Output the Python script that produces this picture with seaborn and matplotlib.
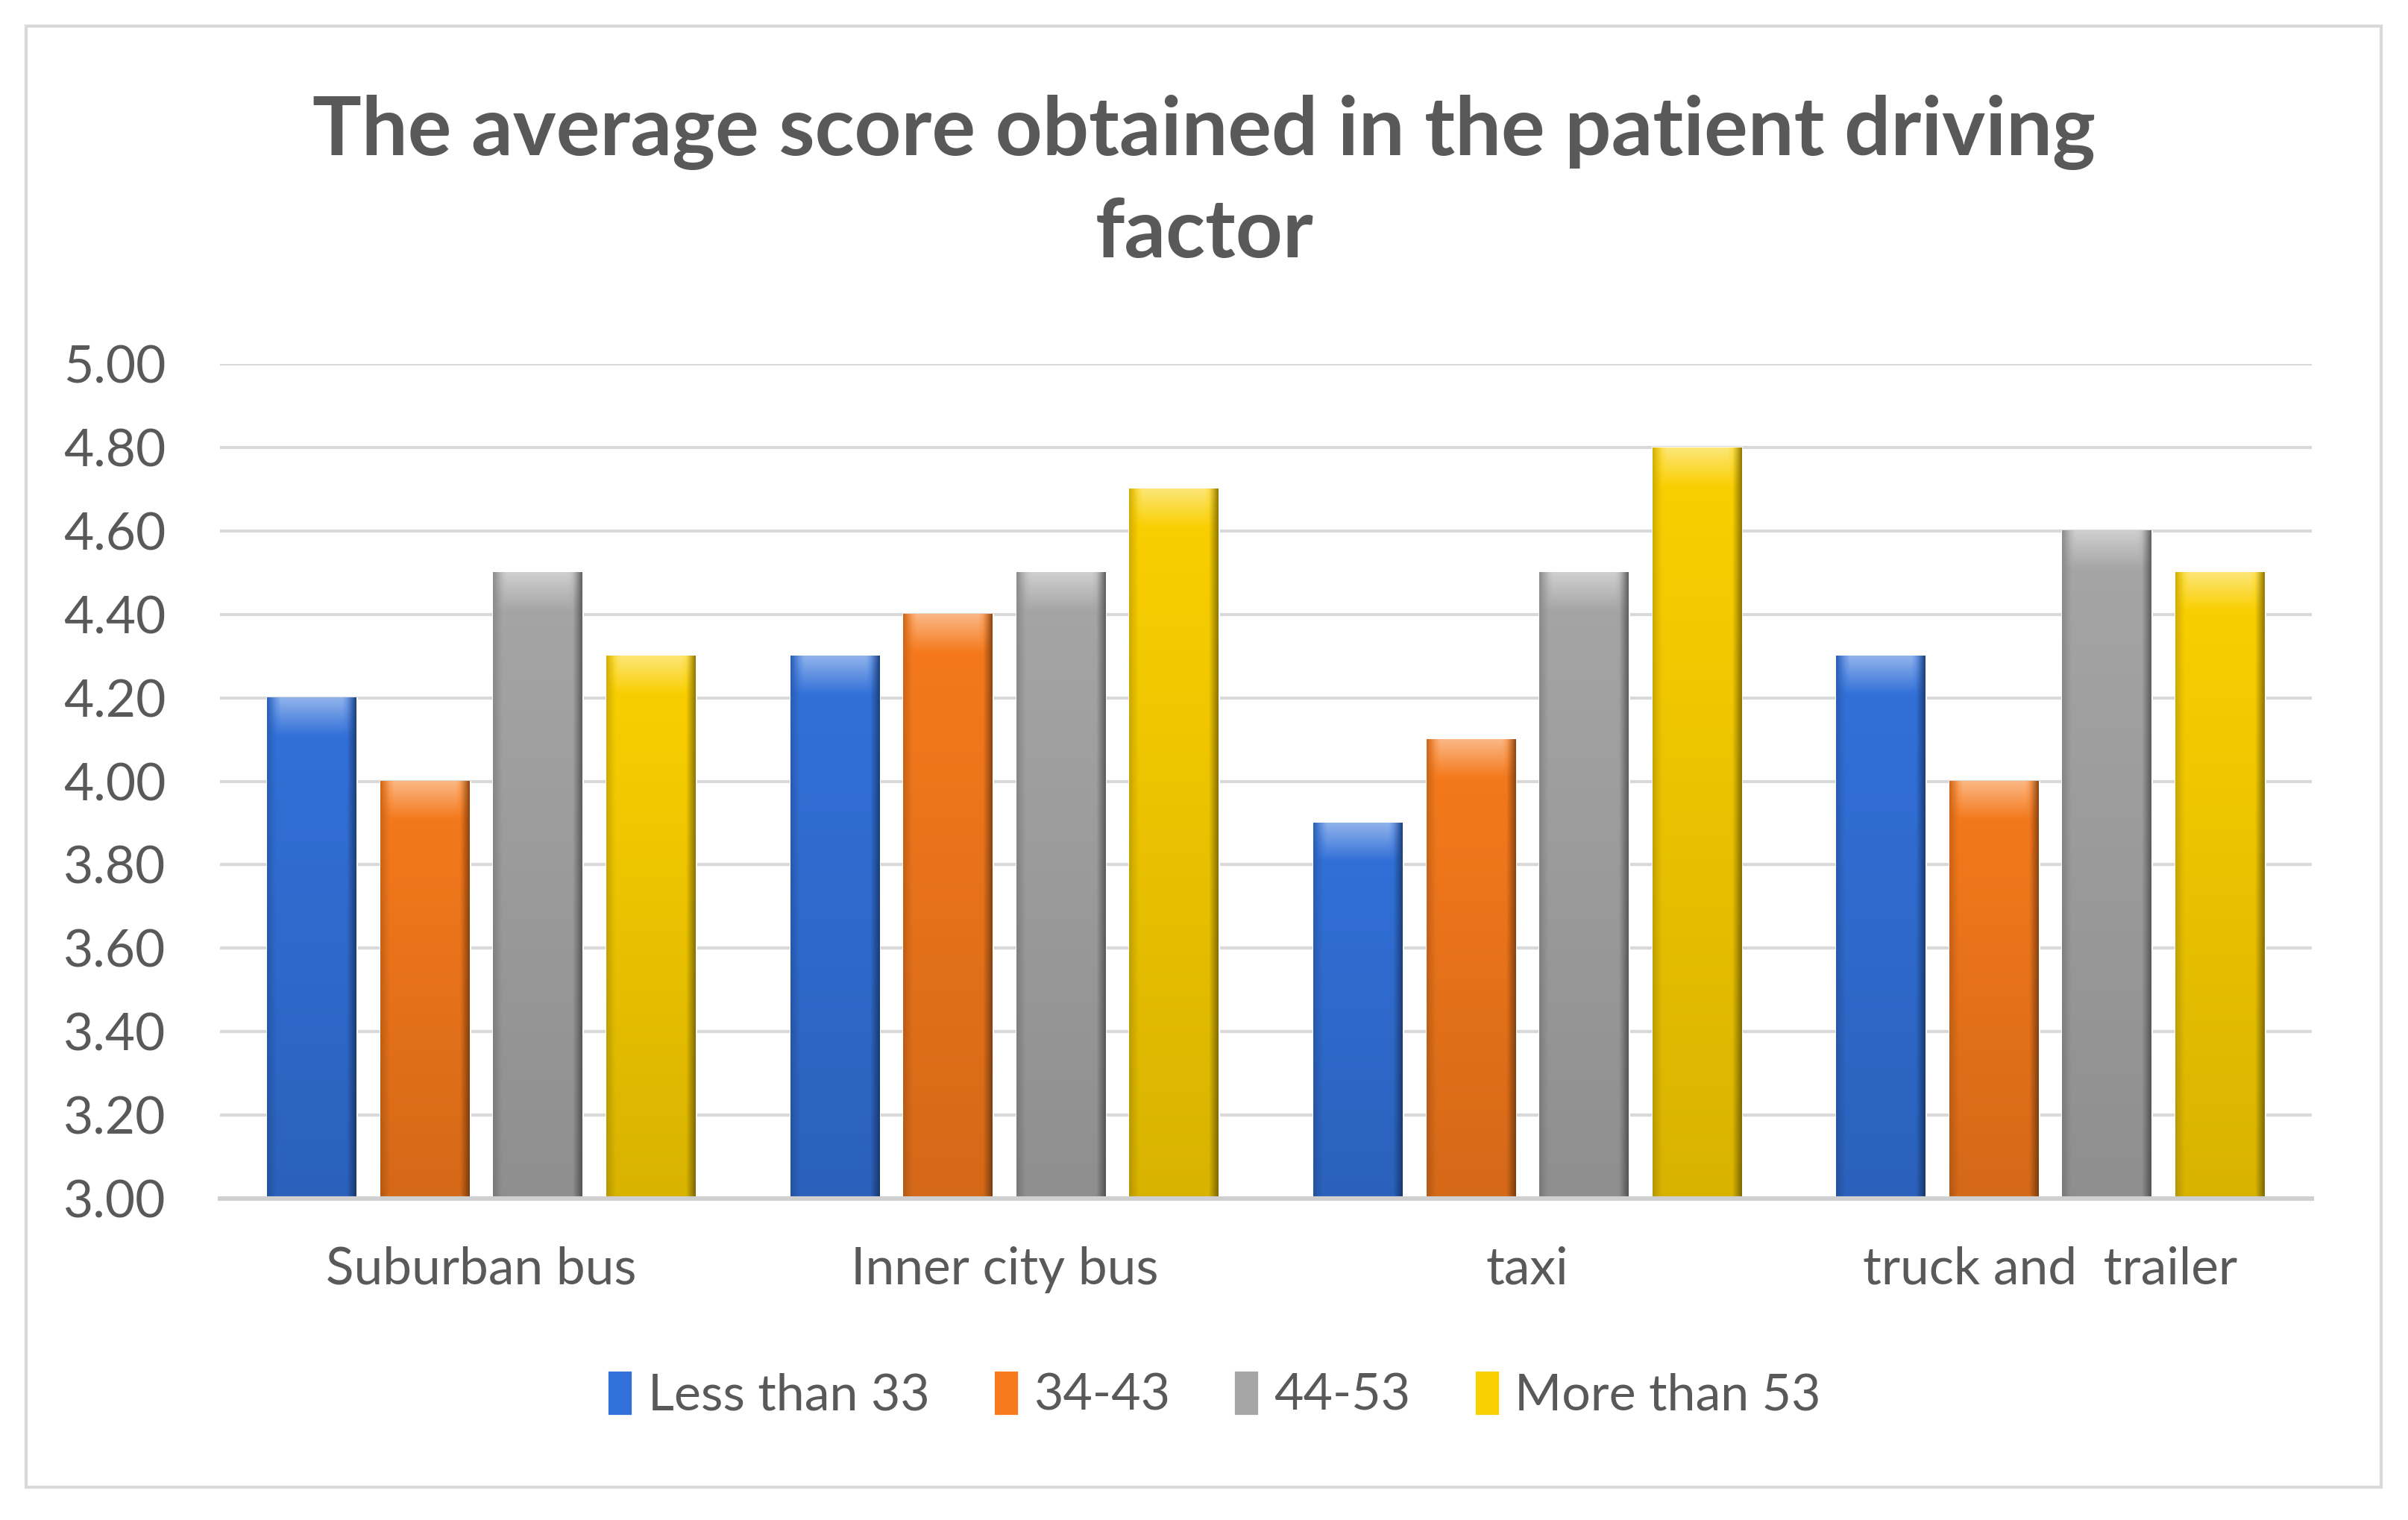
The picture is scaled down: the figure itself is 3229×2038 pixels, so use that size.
import matplotlib.pyplot as plt
import matplotlib.colors as mcolors
from matplotlib.patches import Rectangle
import seaborn as sns
import pandas as pd
import numpy as np

# chart values
categories = ['Suburban bus', 'Inner city bus', 'taxi', 'truck and  trailer']
groups = ['Less than 33', '34-43', '44-53', 'More than 53']
less_than_33 = [4.2, 4.3, 3.9, 4.3]
age_34_43 = [4.0, 4.4, 4.1, 4.0]
age_44_53 = [4.5, 4.5, 4.5, 4.6]
more_than_53 = [4.3, 4.7, 4.8, 4.5]
y_ticks = [3.0, 3.2, 3.4, 3.6, 3.8, 4.0, 4.2, 4.4, 4.6, 4.8, 5.0]

colors = ['#3271da', '#f77a1c', '#a6a6a6', '#fbd000']
text_gray = '#595959'
y_min, y_max = 3.0, 5.0

rows = []
for g, vals in zip(groups, [less_than_33, age_34_43, age_44_53, more_than_53]):
    for c, v in zip(categories, vals):
        rows.append({'category': c, 'group': g, 'score': v})
data = pd.DataFrame(rows)

sns.set_theme(style='white')
plt.rcParams['font.family'] = ['Lato', 'DejaVu Sans']

fig = plt.figure(figsize=(16.15, 10.19), dpi=200)
ax = fig.add_axes([0.0913, 0.2115, 0.8685, 0.549])

sns.barplot(data=data, x='category', y='score', hue='group', order=categories,
            hue_order=groups, palette=colors, width=0.864, gap=0.21,
            saturation=1, ax=ax, legend=True)

ax.set_ylim(y_min, y_max)
xlim = ax.get_xlim()

# bevel-like shading on the visible part of each bar
for p in list(ax.patches):
    h = p.get_height()
    if not np.isfinite(h) or h <= 0:
        continue
    x0, y0 = p.get_xy()
    w = p.get_width()
    top = y0 + h
    bot = max(y0, y_min)
    base = np.array(mcolors.to_rgb(p.get_facecolor()))
    nx, ny = 60, 200
    u = np.linspace(0, 1, nx)
    shade_x = np.ones(nx)
    shade_x -= 0.15 * np.clip(1 - u / 0.10, 0, 1)
    shade_x -= 0.40 * np.clip((u - 0.90) / 0.10, 0, 1)
    v = np.linspace(0, 1, ny)
    shade_y = 0.86 + 0.14 * v
    img = base[None, None, :] * shade_y[:, None, None] * shade_x[None, :, None]
    # light band at the top
    yy = bot + v * (top - bot)
    band = np.clip(1 - (top - yy) / 0.09, 0, 1)
    inner = np.clip(np.minimum(u, 1 - u) / 0.15, 0, 1)
    light = (band[:, None] * inner[None, :]) * 0.45
    img = img + (1 - img) * light[:, :, None]
    img = np.clip(img, 0, 1)
    ax.imshow(img, extent=[x0, x0 + w, bot, top], origin='lower',
              aspect='auto', zorder=p.get_zorder() + 0.1, interpolation='bilinear')

ax.set_xlim(xlim)
ax.set_ylim(y_min, y_max)
ax.set_yticks(y_ticks)
ax.set_yticklabels([f'{t:.2f}' for t in y_ticks])
ax.yaxis.grid(True, color='#d9d9d9', linewidth=1.5)
ax.set_axisbelow(True)
for s in ['left', 'right', 'top']:
    ax.spines[s].set_visible(False)
ax.spines['bottom'].set_color('#d0d0d0')
ax.spines['bottom'].set_linewidth(2.2)
ax.spines['bottom'].set_zorder(5)
ax.tick_params(axis='y', length=0, pad=26, labelsize=25, labelcolor=text_gray)
ax.tick_params(axis='x', length=0, pad=23, labelsize=25, labelcolor=text_gray)
ax.set_xlabel('')
ax.set_ylabel('')

handles, labels = ax.get_legend_handles_labels()
ax.get_legend().remove()
fig.legend(handles, labels, loc='center', bbox_to_anchor=(0.504, 0.0824), ncol=4,
           frameon=False, fontsize=24.5, labelcolor=text_gray, handlelength=0.5,
           handleheight=1.0, handletextpad=0.3, columnspacing=1.25)

fig.text(0.5, 0.8798, 'The average score obtained in the patient driving\nfactor',
         ha='center', va='center', fontsize=39.5, fontweight='bold', color=text_gray,
         linespacing=1.45)

fig.patches.append(Rectangle((0.0108, 0.0216), 0.9777, 0.9612, transform=fig.transFigure,
                             fill=False, edgecolor='#d9d9d9', linewidth=1.5))

fig.savefig('out.png', dpi=200, facecolor='white')
